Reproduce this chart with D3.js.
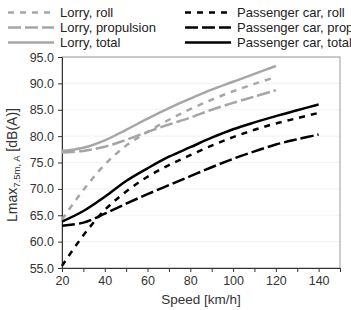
<!DOCTYPE html>
<html><head><meta charset="utf-8">
<script src="https://cdn.jsdelivr.net/npm/d3@7"></script>
<style>body{margin:0;background:#fff}</style>
</head><body><svg id="c" width="351" height="310"></svg>
<script>
const lorrySpeeds = [20,30,40,50,60,70,80,90,100,110,120];
const carSpeeds = [20,30,40,50,60,70,80,90,100,110,120,130,140];
const lorryRoll = [64.2,69.8,74.6,78.2,80.8,83.1,85.1,86.9,88.5,89.9,91.2];
const lorryProp = [76.9,77.2,78.0,79.3,80.8,82.2,83.5,85.0,86.3,87.5,88.7];
const lorryTotal = [77.2,77.8,79.2,81.2,83.3,85.3,87.1,88.8,90.3,91.8,93.3];
const carRoll = [55.4,61.2,66.0,69.5,72.3,74.5,76.4,78.2,79.8,81.2,82.4,83.4,84.4];
const carProp = [63.0,63.6,65.3,67.2,69.0,70.7,72.4,74.1,75.7,77.1,78.4,79.4,80.3];
const carTotal = [63.8,65.8,68.5,71.5,73.9,76.1,77.9,79.7,81.3,82.6,83.8,84.9,86.0];
const xTickLabels = [20,40,60,80,100,120,140];
const yTickLabels = [55,60,65,70,75,80,85,90,95];

const series = [
  {name:"Lorry, roll", x:lorrySpeeds, y:lorryRoll, color:"#a6a6a6", dash:"6,6"},
  {name:"Lorry, propulsion", x:lorrySpeeds, y:lorryProp, color:"#a6a6a6", dash:"13,4"},
  {name:"Lorry, total", x:lorrySpeeds, y:lorryTotal, color:"#a6a6a6", dash:null},
  {name:"Passenger car, roll", x:carSpeeds, y:carRoll, color:"#000", dash:"6,6"},
  {name:"Passenger car, propulsion", x:carSpeeds, y:carProp, color:"#000", dash:"13,4"},
  {name:"Passenger car, total", x:carSpeeds, y:carTotal, color:"#000", dash:null}
];

const svg = d3.select("#c");
const L=62,R=340,T=57,B=268;
const x = d3.scaleLinear().domain([20,150]).range([L,R]);
const y = d3.scaleLinear().domain([55,95]).range([B,T]);
const font = "Liberation Sans, Arial, sans-serif";

// grid
svg.append("g").selectAll("line").data(yTickLabels.slice(1)).join("line")
  .attr("x1",L).attr("x2",R).attr("y1",d=>y(d)).attr("y2",d=>y(d))
  .attr("stroke","#f2f2f2").attr("stroke-width",1);
// box
svg.append("rect").attr("x",L).attr("y",T).attr("width",R-L).attr("height",B-T)
  .attr("fill","none").attr("stroke","#9a9a9a").attr("stroke-width",1);

// axes
const ya = svg.append("g").attr("transform",`translate(${L},0)`)
  .call(d3.axisLeft(y).tickValues(yTickLabels).tickFormat(d3.format(".1f")).tickSize(4).tickPadding(4));
const xa = svg.append("g").attr("transform",`translate(0,${B})`)
  .call(d3.axisBottom(x).tickValues(d3.range(20,151,10)).tickFormat(d=>xTickLabels.includes(d)?d:"").tickSize(4).tickPadding(4));
[ya,xa].forEach(g=>{
  g.select(".domain").attr("stroke","#333");
  g.selectAll(".tick line").attr("stroke","#333");
  g.selectAll("text").attr("font-family",font).attr("font-size",12.5).attr("fill","#333");
});

// lines
const line = d3.line().curve(d3.curveCatmullRom.alpha(0.5));
svg.append("g").selectAll("path").data(series).join("path")
  .attr("d",s=>line(s.x.map((v,i)=>[x(v),y(s.y[i])])))
  .attr("fill","none").attr("stroke",s=>s.color).attr("stroke-width",2.5)
  .attr("stroke-dasharray",s=>s.dash);

// legend
const leg = svg.append("g");
series.forEach((s,i)=>{
  const col = i<3?0:1, row=i%3;
  const lx = col===0?8:185, ly = 12.5+row*15;
  leg.append("line").attr("x1",lx).attr("x2",lx+46).attr("y1",ly).attr("y2",ly)
    .attr("stroke",s.color).attr("stroke-width",2.5).attr("stroke-dasharray",s.dash);
  leg.append("text").attr("x",lx+52).attr("y",ly+4.5).text(s.name)
    .attr("font-family",font).attr("font-size",13).attr("fill","#222");
});

// axis titles
svg.append("text").attr("x",201).attr("y",304).attr("text-anchor","middle")
  .attr("font-family",font).attr("font-size",13.5).attr("fill","#333").text("Speed [km/h]");
const yt = svg.append("text").attr("transform",`translate(17,${165}) rotate(-90)`)
  .attr("text-anchor","middle").attr("font-family",font).attr("font-size",14).attr("fill","#333");
yt.append("tspan").text("Lmax");
yt.append("tspan").attr("font-size",9.5).attr("dy",3).text("7.5m, A");
yt.append("tspan").attr("dy",-3).text(" [dB(A)]");
</script></body></html>
